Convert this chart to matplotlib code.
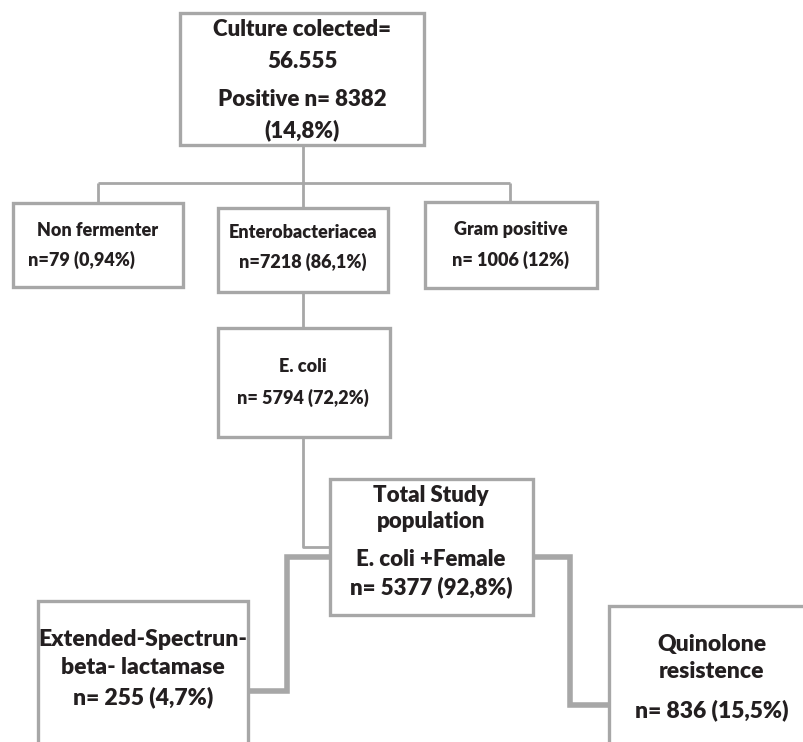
import matplotlib.pyplot as plt
from matplotlib.patches import Rectangle

# flowchart content
box_titles = [["Culture colected=", "56.555"], ["Non fermenter"], ["Enterobacteriacea"], ["Gram positive"],
              ["E. coli"], ["Total Study", "population", "E. coli +Female"],
              ["Extended-Spectrun-", "beta- lactamase"], ["Quinolone", "resistence"]]
box_counts = [["Positive n= 8382", "(14,8%)"], ["n=79 (0,94%)"], ["n=7218 (86,1%)"], ["n= 1006 (12%)"],
              ["n= 5794 (72,2%)"], ["n= 5377 (92,8%)"], ["n= 255 (4,7%)"], ["n= 836 (15,5%)"]]

# layout in pixels: (left, top, right, bottom)
box_pos = [(180, 13, 424, 145), (13, 203, 183, 287), (218, 208, 388, 292), (425, 202, 597, 288),
           (218, 328, 390, 437), (330, 479, 533, 615), (38, 601, 248, 780), (609, 606, 830, 780)]
text_x = [302, 98, 303, 511, 303, 431, 143, 712]
line_y = [[30, 61, 100, 130], [230, 260], [232, 262], [230, 260], [367, 398],
          [495, 522, 560, 587], [640, 668, 697], [645, 672, 710]]
font_sz = [16, 13, 13, 13, 13, 16, 16.5, 16.5]

edge = '#a7a7a7'
txt = '#231f20'

fig = plt.figure(figsize=(8.04, 7.42), dpi=100)
ax = fig.add_axes([0, 0, 1, 1])
ax.set_xlim(0, 804)
ax.set_ylim(742, 0)
ax.axis('off')

# thin connectors
thin = dict(color=edge, lw=2.0, solid_capstyle='butt', zorder=1)
ax.plot([303, 303], [145, 208], **thin)
ax.plot([98, 510], [183, 183], **thin)
ax.plot([98, 98], [183, 203], **thin)
ax.plot([510, 510], [183, 202], **thin)
ax.plot([303, 303], [292, 328], **thin)
ax.plot([303, 303, 330], [437, 547, 547], **thin)

# thick connectors
thick = dict(color=edge, lw=4.0, solid_capstyle='butt', solid_joinstyle='miter', zorder=1)
ax.plot([330, 287, 287, 248], [557, 557, 691, 691], **thick)
ax.plot([533, 570, 570, 609], [557, 557, 705, 705], **thick)

for i in range(len(box_titles)):
    l, t, r, b = box_pos[i]
    ax.add_patch(Rectangle((l, t), r - l, b - t, facecolor='white', edgecolor=edge, lw=2.4, zorder=2))
    lines = box_titles[i] + box_counts[i]
    for j, s in enumerate(lines):
        x, ha = text_x[i], 'center'
        if i == 1 and j == 1:
            x, ha = 28, 'left'
        ax.text(x, line_y[i][j], s, ha=ha, va='center', fontsize=font_sz[i],
                fontweight='heavy', color=txt, family='Lato', zorder=3)

fig.savefig('out.png', dpi=100)
